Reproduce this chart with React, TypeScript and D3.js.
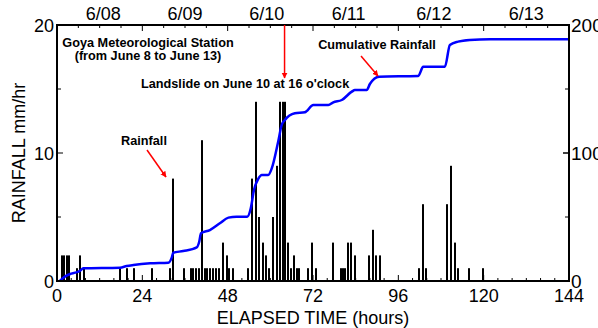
import React from 'react';
import * as d3 from 'd3';

// Hourly rainfall observations: elapsed hours since June 8 00:00 and intensity (mm/hr)
const rainHours = [
  1.5, 2.1, 2.7, 3.4, 5.6, 6.6, 7.6, 17.7, 19.6, 21.7, 26.8, 31.8, 32.7, 35.8,
  37.6, 38.3, 39.1, 39.8, 40.8, 41.5, 42.3, 43.0, 43.8, 44.7, 45.5, 46.8, 47.7,
  48.5, 49.4, 53.8, 54.8, 55.9, 56.8, 57.8, 58.7, 59.7, 60.8, 61.9, 62.7, 63.5,
  64.2, 64.9, 65.8, 66.7, 67.4, 68.1, 70.7, 71.7, 72.8, 77.7, 79.8, 80.5, 81.1,
  81.8, 82.7, 83.7, 87.8, 88.8, 89.7, 90.8, 101.8, 102.8, 103.9, 109.8, 110.7,
  111.9, 112.8, 115.9, 119.9,
];
const rainValues = [
  2, 2, 2, 2, 1, 2, 1, 1, 1, 1, 1, 1, 8, 1,
  1, 1, 1, 1, 11, 1, 1, 1, 1, 1, 1, 3, 2,
  1, 1, 1, 8, 14, 5, 3, 2, 1, 5, 9, 14, 14,
  14, 3, 1, 2, 1, 1, 1, 3, 1, 3, 1, 1, 1,
  3, 3, 2, 2, 4, 2, 2, 1, 6, 1, 6, 9,
  3, 1, 1, 1,
];

// Cumulative rainfall (mm)
const cumHours = [
  0.8, 2.2, 3.7, 5.1, 6.5, 7.4, 17.7, 19.6, 21.5, 26.2, 31.3, 32.3, 32.7, 35.5,
  39.3, 40.0, 40.5, 43.0, 45.8, 48.2, 50.5, 53.5, 54.5, 55.4, 56.6, 57.6, 59.4,
  60.4, 62.2, 63.2, 64.1, 66.9, 69.7, 72.1, 76.3, 77.7, 80.1, 82.9, 83.8, 87.1,
  88.0, 90.6, 101.6, 103.0, 109.1, 110.5, 112.8, 116.1, 121.8, 144,
];
const cumValues = [
  0, 3.4, 5.5, 6.5, 8, 9.9, 10.4, 11.7, 12.5, 13.8, 14.3, 18.5, 22.1, 23.4,
  26.3, 30.7, 37.3, 39.8, 45.1, 49.5, 50.2, 50.2, 56.8, 71.1, 79.7, 82.8, 82.8,
  88, 108.8, 121.9, 125.8, 131, 131.8, 137.5, 137.5, 139.6, 141.4, 147.9, 149.2, 149.2,
  153.9, 159.6, 160.2, 167.4, 167.4, 184.4, 187, 188.3, 188.8, 188.8,
];

const hourTicks = [0, 24, 48, 72, 96, 120, 144];
const rainTicks = [0, 10, 20];
const cumTicks = [0, 100, 200];
const dayLabels = ['6/08', '6/09', '6/10', '6/11', '6/12', '6/13'];
const dayLabelHours = [13, 36, 59, 82, 106, 132];
const landslideHour = 64;

const W = 598;
const H = 328;
const M = { left: 57, right: 569, top: 25, bottom: 281 };
const FONT = "'Liberation Sans', Arial, Helvetica, sans-serif";

export default function App() {
  const x = d3.scaleLinear().domain([0, 144]).range([M.left, M.right]);
  const yRain = d3.scaleLinear().domain([0, 20]).range([M.bottom, M.top]);
  const yCum = d3.scaleLinear().domain([0, 200]).range([M.bottom, M.top]);

  const cumPoints: [number, number][] = cumHours.map((h, i) => [h, cumValues[i]]);
  const cumPath = d3
    .line<[number, number]>()
    .x((d) => x(d[0]))
    .y((d) => yCum(d[1]))
    .curve(d3.curveMonotoneX)(cumPoints) as string;

  const barW = 2;
  const minorBottom = d3.range(0, 145, 4);
  const topTicks = d3.range(0, 145, 6);
  const rainMinor = [5, 15];
  const cumMinor = [50, 150];

  const lx = x(landslideHour);

  return (
    <svg
      width={W}
      height={H}
      style={{ position: 'absolute', left: 0, top: 0, background: '#fff' }}
      fontFamily={FONT}
    >
      <defs>
        <marker id="redHead" viewBox="0 0 10 10" refX="9" refY="5" markerWidth="6" markerHeight="7" orient="auto" markerUnits="userSpaceOnUse">
          <path d="M0,0 L10,5 L0,10 z" fill="#ff0000" />
        </marker>
      </defs>

      {/* rainfall bars */}
      {rainHours.map((h, i) => (
        <rect
          key={'b' + i}
          x={Math.round(x(h) - barW / 2)}
          y={yRain(rainValues[i])}
          width={barW}
          height={M.bottom - yRain(rainValues[i])}
          fill="#000"
        />
      ))}

      {/* cumulative rainfall curve */}
      <path d={cumPath} fill="none" stroke="#0000ff" strokeWidth={2.5} strokeLinejoin="round" />

      {/* frame */}
      <rect x={M.left} y={M.top} width={M.right - M.left} height={M.bottom - M.top} fill="none" stroke="#000" strokeWidth={2} />

      {/* bottom axis ticks */}
      {minorBottom.map((h) => (
        <line key={'mb' + h} x1={x(h)} x2={x(h)} y1={M.bottom} y2={M.bottom - (h % 24 === 0 ? 6 : 3)} stroke="#000" strokeWidth={1} />
      ))}
      {hourTicks.map((h) => (
        <text key={'bt' + h} x={x(h)} y={M.bottom + 21} fontSize={18} textAnchor="middle" fill="#000">
          {h}
        </text>
      ))}

      {/* top axis ticks */}
      {topTicks.map((h) => (
        <line key={'tt' + h} x1={x(h)} x2={x(h)} y1={M.top} y2={M.top + (h % 24 === 0 ? 6 : 3)} stroke="#000" strokeWidth={1} />
      ))}
      {dayLabels.map((d, i) => (
        <text key={'dl' + d} x={x(dayLabelHours[i])} y={20} fontSize={18} textAnchor="middle" fill="#000">
          {d}
        </text>
      ))}

      {/* left axis */}
      {rainTicks.map((v) => (
        <g key={'rl' + v}>
          <line x1={M.left} x2={M.left + 6} y1={yRain(v)} y2={yRain(v)} stroke="#000" strokeWidth={1} />
          <text x={M.left - 3} y={yRain(v) + 6.5} fontSize={18} textAnchor="end" fill="#000">
            {v}
          </text>
        </g>
      ))}
      {rainMinor.map((v) => (
        <line key={'rm' + v} x1={M.left} x2={M.left + 4} y1={yRain(v)} y2={yRain(v)} stroke="#000" strokeWidth={1} />
      ))}

      {/* right axis */}
      {cumTicks.map((v) => (
        <g key={'cl' + v}>
          <line x1={M.right} x2={M.right - 6} y1={yCum(v)} y2={yCum(v)} stroke="#000" strokeWidth={1.5} />
          <text x={M.right + 2} y={yCum(v) + 6.5} fontSize={19} textAnchor="start" fill="#000">
            {v}
          </text>
        </g>
      ))}
      {cumMinor.map((v) => (
        <line key={'cm' + v} x1={M.right} x2={M.right - 4} y1={yCum(v)} y2={yCum(v)} stroke="#000" strokeWidth={1} />
      ))}

      {/* axis titles */}
      <text x={313} y={324} fontSize={18} textAnchor="middle" fill="#000">
        ELAPSED TIME (hours)
      </text>
      <text transform={`translate(25,${(M.top + M.bottom) / 2}) rotate(-90)`} fontSize={18} textAnchor="middle" fill="#000">
        RAINFALL mm/hr
      </text>

      {/* annotations */}
      <g fontSize={12.7} fontWeight="bold" fill="#000">
        <text x={148} y={47} textAnchor="middle">Goya Meteorological Station</text>
        <text x={148} y={60} textAnchor="middle">(from June 8 to June 13)</text>
        <text x={141} y={88}>Landslide on June 10 at 16 o'clock</text>
        <text x={144} y={145} textAnchor="middle">Rainfall</text>
        <text x={377} y={49} textAnchor="middle">Cumulative Rainfall</text>
      </g>

      {/* red arrows */}
      <line x1={lx} x2={lx} y1={M.top} y2={78} stroke="#ff0000" strokeWidth={1.5} markerEnd="url(#redHead)" />
      <line x1={147} y1={150} x2={166} y2={177} stroke="#ff0000" strokeWidth={1.5} markerEnd="url(#redHead)" />
      <line x1={361} y1={56} x2={378} y2={76} stroke="#ff0000" strokeWidth={1.5} markerEnd="url(#redHead)" />
    </svg>
  );
}
